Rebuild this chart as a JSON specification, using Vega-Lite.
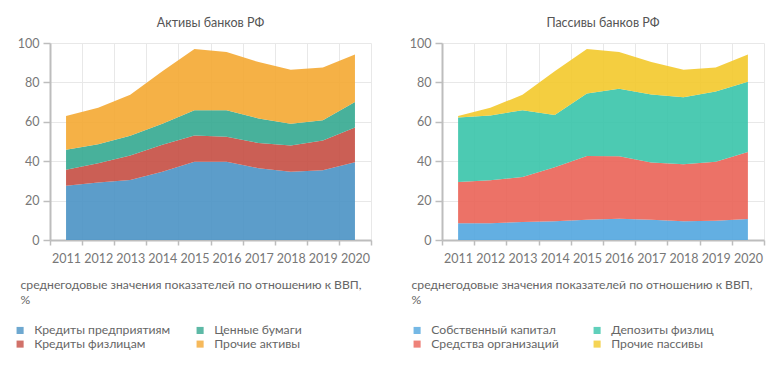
{
  "$schema": "https://vega.github.io/schema/vega-lite/v6.json",
  "background": "white",
  "padding": {"left": 14, "top": 16, "right": 10, "bottom": 5},
  "bounds": "flush",
  "config": {
    "font": "Lato",
    "view": {"stroke": null},
    "title": {"fontSize": 12.5, "fontWeight": "normal", "color": "#555555", "offset": 8},
    "axis": {
      "labelFontSize": 12.5, "labelColor": "#777777", "gridColor": "#e8e8e8", "gridWidth": 1,
      "domainColor": "#bdbdbd", "domainWidth": 2, "tickColor": "#bdbdbd", "tickWidth": 1.5
    },
    "legend": {
      "orient": "none", "legendY": 281, "padding": 0, "columns": 2, "symbolType": "square",
      "symbolSize": 50, "symbolStrokeWidth": 0, "symbolOpacity": 0.8, "labelFontSize": 12.2, "labelColor": "#666666",
      "labelOffset": 8, "rowPadding": 1, "title": null
    },
    "concat": {"spacing": 71}
  },
  "datasets": {
    "assets": [
      {"year": "2011", "series": "Кредиты предприятиям", "rank": 1, "value": 27.6},
      {"year": "2012", "series": "Кредиты предприятиям", "rank": 1, "value": 29.2},
      {"year": "2013", "series": "Кредиты предприятиям", "rank": 1, "value": 30.5},
      {"year": "2014", "series": "Кредиты предприятиям", "rank": 1, "value": 34.7},
      {"year": "2015", "series": "Кредиты предприятиям", "rank": 1, "value": 39.7},
      {"year": "2016", "series": "Кредиты предприятиям", "rank": 1, "value": 39.7},
      {"year": "2017", "series": "Кредиты предприятиям", "rank": 1, "value": 36.4},
      {"year": "2018", "series": "Кредиты предприятиям", "rank": 1, "value": 34.7},
      {"year": "2019", "series": "Кредиты предприятиям", "rank": 1, "value": 35.4},
      {"year": "2020", "series": "Кредиты предприятиям", "rank": 1, "value": 39.5},
      {"year": "2011", "series": "Кредиты физлицам", "rank": 2, "value": 8.0},
      {"year": "2012", "series": "Кредиты физлицам", "rank": 2, "value": 9.8},
      {"year": "2013", "series": "Кредиты физлицам", "rank": 2, "value": 12.4},
      {"year": "2014", "series": "Кредиты физлицам", "rank": 2, "value": 13.6},
      {"year": "2015", "series": "Кредиты физлицам", "rank": 2, "value": 13.3},
      {"year": "2016", "series": "Кредиты физлицам", "rank": 2, "value": 12.7},
      {"year": "2017", "series": "Кредиты физлицам", "rank": 2, "value": 12.8},
      {"year": "2018", "series": "Кредиты физлицам", "rank": 2, "value": 13.3},
      {"year": "2019", "series": "Кредиты физлицам", "rank": 2, "value": 15.1},
      {"year": "2020", "series": "Кредиты физлицам", "rank": 2, "value": 17.6},
      {"year": "2011", "series": "Ценные бумаги", "rank": 3, "value": 10.2},
      {"year": "2012", "series": "Ценные бумаги", "rank": 3, "value": 9.6},
      {"year": "2013", "series": "Ценные бумаги", "rank": 3, "value": 10.0},
      {"year": "2014", "series": "Ценные бумаги", "rank": 3, "value": 10.7},
      {"year": "2015", "series": "Ценные бумаги", "rank": 3, "value": 12.8},
      {"year": "2016", "series": "Ценные бумаги", "rank": 3, "value": 13.4},
      {"year": "2017", "series": "Ценные бумаги", "rank": 3, "value": 12.5},
      {"year": "2018", "series": "Ценные бумаги", "rank": 3, "value": 11.0},
      {"year": "2019", "series": "Ценные бумаги", "rank": 3, "value": 10.3},
      {"year": "2020", "series": "Ценные бумаги", "rank": 3, "value": 12.9},
      {"year": "2011", "series": "Прочие активы", "rank": 4, "value": 17.2},
      {"year": "2012", "series": "Прочие активы", "rank": 4, "value": 18.5},
      {"year": "2013", "series": "Прочие активы", "rank": 4, "value": 20.8},
      {"year": "2014", "series": "Прочие активы", "rank": 4, "value": 26.6},
      {"year": "2015", "series": "Прочие активы", "rank": 4, "value": 31.1},
      {"year": "2016", "series": "Прочие активы", "rank": 4, "value": 29.6},
      {"year": "2017", "series": "Прочие активы", "rank": 4, "value": 28.6},
      {"year": "2018", "series": "Прочие активы", "rank": 4, "value": 27.4},
      {"year": "2019", "series": "Прочие активы", "rank": 4, "value": 26.8},
      {"year": "2020", "series": "Прочие активы", "rank": 4, "value": 24.2}
    ],
    "liabilities": [
      {"year": "2011", "series": "Собственный капитал", "rank": 1, "value": 8.5},
      {"year": "2012", "series": "Собственный капитал", "rank": 1, "value": 8.5},
      {"year": "2013", "series": "Собственный капитал", "rank": 1, "value": 9.2},
      {"year": "2014", "series": "Собственный капитал", "rank": 1, "value": 9.5},
      {"year": "2015", "series": "Собственный капитал", "rank": 1, "value": 10.3},
      {"year": "2016", "series": "Собственный капитал", "rank": 1, "value": 10.8},
      {"year": "2017", "series": "Собственный капитал", "rank": 1, "value": 10.3},
      {"year": "2018", "series": "Собственный капитал", "rank": 1, "value": 9.5},
      {"year": "2019", "series": "Собственный капитал", "rank": 1, "value": 9.8},
      {"year": "2020", "series": "Собственный капитал", "rank": 1, "value": 10.7},
      {"year": "2011", "series": "Средства организаций", "rank": 2, "value": 21.0},
      {"year": "2012", "series": "Средства организаций", "rank": 2, "value": 21.8},
      {"year": "2013", "series": "Средства организаций", "rank": 2, "value": 22.8},
      {"year": "2014", "series": "Средства организаций", "rank": 2, "value": 27.4},
      {"year": "2015", "series": "Средства организаций", "rank": 2, "value": 32.4},
      {"year": "2016", "series": "Средства организаций", "rank": 2, "value": 31.7},
      {"year": "2017", "series": "Средства организаций", "rank": 2, "value": 29.0},
      {"year": "2018", "series": "Средства организаций", "rank": 2, "value": 29.0},
      {"year": "2019", "series": "Средства организаций", "rank": 2, "value": 29.9},
      {"year": "2020", "series": "Средства организаций", "rank": 2, "value": 34.0},
      {"year": "2011", "series": "Депозиты физлиц", "rank": 3, "value": 32.7},
      {"year": "2012", "series": "Депозиты физлиц", "rank": 3, "value": 32.9},
      {"year": "2013", "series": "Депозиты физлиц", "rank": 3, "value": 33.9},
      {"year": "2014", "series": "Депозиты физлиц", "rank": 3, "value": 26.5},
      {"year": "2015", "series": "Депозиты физлиц", "rank": 3, "value": 31.7},
      {"year": "2016", "series": "Депозиты физлиц", "rank": 3, "value": 34.3},
      {"year": "2017", "series": "Депозиты физлиц", "rank": 3, "value": 34.6},
      {"year": "2018", "series": "Депозиты физлиц", "rank": 3, "value": 33.9},
      {"year": "2019", "series": "Депозиты физлиц", "rank": 3, "value": 35.7},
      {"year": "2020", "series": "Депозиты физлиц", "rank": 3, "value": 35.6},
      {"year": "2011", "series": "Прочие пассивы", "rank": 4, "value": 0.8},
      {"year": "2012", "series": "Прочие пассивы", "rank": 4, "value": 3.9},
      {"year": "2013", "series": "Прочие пассивы", "rank": 4, "value": 7.8},
      {"year": "2014", "series": "Прочие пассивы", "rank": 4, "value": 22.2},
      {"year": "2015", "series": "Прочие пассивы", "rank": 4, "value": 22.5},
      {"year": "2016", "series": "Прочие пассивы", "rank": 4, "value": 18.6},
      {"year": "2017", "series": "Прочие пассивы", "rank": 4, "value": 16.4},
      {"year": "2018", "series": "Прочие пассивы", "rank": 4, "value": 14.0},
      {"year": "2019", "series": "Прочие пассивы", "rank": 4, "value": 12.2},
      {"year": "2020", "series": "Прочие пассивы", "rank": 4, "value": 13.9}
    ]
  },
  "resolve": {"scale": {"color": "independent"}, "legend": {"color": "independent"}},
  "hconcat": [
    {
      "title": "Активы банков РФ",
      "width": 321,
      "height": 197,
      "data": {"name": "assets"},
      "mark": {"type": "area", "opacity": 0.9, "interpolate": "linear"},
      "encoding": {
        "x": {
          "field": "year", "type": "ordinal", "bandPosition": 0.5,
          "scale": {"type": "band", "paddingInner": 0, "paddingOuter": 0},
          "axis": {
            "labelAngle": 0, "tickBand": "extent", "grid": true, "tickSize": 5, "labelPadding": 7,
            "title": ["среднегодовые значения показателей по отношению к ВВП,", "%"],
            "titleAnchor": "start", "titleAlign": "left", "titleX": -30, "titleY": 38,
            "titleBaseline": "top", "titleFontSize": 12.2, "titleFontWeight": "normal",
            "titleColor": "#666666", "titleLineHeight": 15
          }
        },
        "y": {
          "field": "value", "type": "quantitative", "stack": "zero",
          "scale": {"domain": [0, 100], "nice": false},
          "axis": {"title": null, "values": [0, 20, 40, 60, 80, 100], "tickSize": 7, "labelPadding": 4}
        },
        "order": {"field": "rank", "type": "quantitative", "sort": "ascending"},
        "color": {
          "field": "series", "type": "nominal",
          "scale": {
            "domain": ["Кредиты предприятиям", "Кредиты физлицам", "Ценные бумаги", "Прочие активы"],
            "range": ["#4a92c4", "#c54e43", "#34a890", "#f4a832"]
          },
          "legend": {"columnPadding": 23, "legendX": -36}
        }
      }
    },
    {
      "title": "Пассивы банков РФ",
      "width": 322,
      "height": 197,
      "data": {"name": "liabilities"},
      "mark": {"type": "area", "opacity": 0.9, "interpolate": "linear"},
      "encoding": {
        "x": {
          "field": "year", "type": "ordinal", "bandPosition": 0.5,
          "scale": {"type": "band", "paddingInner": 0, "paddingOuter": 0},
          "axis": {
            "labelAngle": 0, "tickBand": "extent", "grid": true, "tickSize": 5, "labelPadding": 7,
            "title": ["среднегодовые значения показателей по отношению к ВВП,", "%"],
            "titleAnchor": "start", "titleAlign": "left", "titleX": -31, "titleY": 38,
            "titleBaseline": "top", "titleFontSize": 12.2, "titleFontWeight": "normal",
            "titleColor": "#666666", "titleLineHeight": 15
          }
        },
        "y": {
          "field": "value", "type": "quantitative", "stack": "zero",
          "scale": {"domain": [0, 100], "nice": false},
          "axis": {"title": null, "values": [0, 20, 40, 60, 80, 100], "tickSize": 7, "labelPadding": 4}
        },
        "order": {"field": "rank", "type": "quantitative", "sort": "ascending"},
        "color": {
          "field": "series", "type": "nominal",
          "scale": {
            "domain": ["Собственный капитал", "Средства организаций", "Депозиты физлиц", "Прочие пассивы"],
            "range": ["#52a6df", "#ea6357", "#38c4aa", "#f3c92b"]
          },
          "legend": {"columnPadding": 32, "legendX": -31}
        }
      }
    }
  ]
}
